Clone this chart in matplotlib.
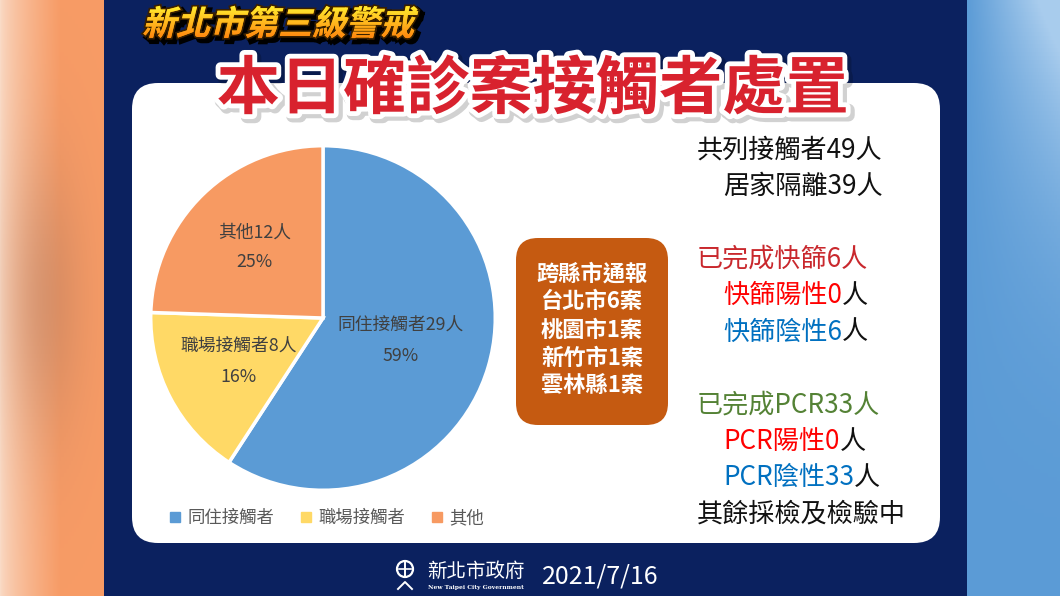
import numpy as np
import matplotlib
matplotlib.use('Agg')
import matplotlib.pyplot as plt
from matplotlib.patches import FancyBboxPatch, Rectangle, PathPatch, Circle
from matplotlib.textpath import TextPath
from matplotlib.font_manager import FontProperties
from matplotlib.transforms import Affine2D
from matplotlib.lines import Line2D
import matplotlib.patheffects as pe

plt.rcParams['font.family'] = ['Noto Sans CJK TC', 'DejaVu Sans']

# ---------------- data ----------------
categories = ['同住接觸者', '職場接觸者', '其他']
counts = [29, 8, 12]
pct_labels = ['59%', '16%', '25%']
pie_colors = ['#5B9BD5', '#FFD966', '#F79A62']

title_small = '新北市第三級警戒'
title_big = '本日確診案接觸者處置'
box_lines = ['跨縣市通報', '台北市6案', '桃園市1案', '新竹市1案', '雲林縣1案']

total_contacts = 49
home_quarantine = 39
rapid_done, rapid_pos, rapid_neg = 6, 0, 6
pcr_done, pcr_pos, pcr_neg = 33, 0, 33
footer_org = '新北市政府'
footer_org_en = 'New Taipei City Government'
date_text = '2021/7/16'

BLACK = '#111111'
DARKRED = '#C9282D'
RED = '#FF0000'
BLUE = '#0070C0'
GREEN = '#548235'

right_lines = [
    (False, [(f'共列接觸者{total_contacts}人', BLACK)]),
    (True, [(f'居家隔離{home_quarantine}人', BLACK)]),
    (False, [(f'已完成快篩{rapid_done}人', DARKRED)]),
    (True, [(f'快篩陽性{rapid_pos}', RED), ('人', BLACK)]),
    (True, [(f'快篩陰性{rapid_neg}', BLUE), ('人', BLACK)]),
    (False, [(f'已完成PCR{pcr_done}人', GREEN)]),
    (True, [(f'PCR陽性{pcr_pos}', RED), ('人', BLACK)]),
    (True, [(f'PCR陰性{pcr_neg}', BLUE), ('人', BLACK)]),
    (False, [('其餘採檢及檢驗中', BLACK)]),
]
right_rows = [0, 1, 3, 4, 5, 7, 8, 9, 10]

# ---------------- figure ----------------
W, H = 1060, 596
fig = plt.figure(figsize=(W / 100, H / 100), dpi=100)
bg = fig.add_axes([0, 0, 1, 1])
bg.set_xlim(0, W)
bg.set_ylim(H, 0)
bg.axis('off')

# left blurred orange strip
ny, nx = 150, 104
gx = np.arange(nx)[None, :].astype(float)
gy = np.linspace(0, H, ny)[:, None]
c0 = np.array([0.98, 0.86, 0.78])
c1 = np.array([0.97, 0.61, 0.40])
t = np.clip(gx / 60.0, 0, 1) ** 0.7
img = c0[None, None, :] + (c1 - c0)[None, None, :] * t[..., None]
img = np.broadcast_to(img, (ny, nx, 3)).copy()
blob = np.exp(-(((gx - 45) / 28.0) ** 2 + ((gy - 300) / 100.0) ** 2) / 2)
brown = np.array([0.70, 0.48, 0.37])
img = img + (brown - img) * (0.45 * blob)[..., None]
bg.imshow(np.clip(img, 0, 1), extent=(0, 104, H, 0), aspect='auto', zorder=0)

# right blue strip
nx2 = 93
gx2 = np.linspace(0, 1, nx2)[None, :]
gy2 = np.linspace(0, 1, ny)[:, None]
b0 = np.array([0.36, 0.61, 0.84])
b1 = np.array([0.66, 0.80, 0.93])
tt = np.clip((1 - gy2) ** 3 * gx2 * 1.3, 0, 1)
img2 = b0 + (b1 - b0) * tt[..., None]
bg.imshow(np.clip(img2, 0, 1), extent=(967, W, H, 0), aspect='auto', zorder=0)

# navy centre
bg.add_patch(Rectangle((104, 0), 863, H, facecolor='#0B215F', edgecolor='none', zorder=1))

# white rounded panel
bg.add_patch(FancyBboxPatch((132, 83), 808, 460,
                            boxstyle='round,pad=0,rounding_size=26',
                            facecolor='white', edgecolor='none', zorder=2))

# small slanted title with gradient fill
fp_small = FontProperties(family='Noto Sans CJK TC', weight='black')
tp = TextPath((0, 0), title_small, size=34, prop=fp_small)
tr = Affine2D().skew_deg(14, 0).scale(1, -1).translate(142, 35) + bg.transData
patch = PathPatch(tp, transform=tr, facecolor='#FFB000', edgecolor='none', zorder=5,
                  path_effects=[pe.Stroke(linewidth=4, foreground='black', offset=(2.5, -2.5)),
                                pe.Stroke(linewidth=2.5, foreground='#3A2000'),
                                pe.Normal()])
bg.add_patch(patch)
grad = np.linspace(0, 1, 64)[:, None]
gc_top = np.array([1.0, 0.97, 0.20])
gc_bot = np.array([1.0, 0.50, 0.05])
gimg = gc_top + (gc_bot - gc_top) * grad[..., None]
gimg = np.broadcast_to(gimg, (64, 2, 3))
im = bg.imshow(gimg, extent=(135, 450, 40, 3), aspect='auto', zorder=6)
im.set_clip_path(patch)

# big red title
bg.text(533, 90, title_big, ha='center', va='center', fontsize=45.5, weight='black',
        color='#D8222E', zorder=7,
        path_effects=[pe.Stroke(linewidth=9, foreground=(0, 0, 0, 0.18), offset=(2, -2)),
                      pe.Stroke(linewidth=7, foreground='white'),
                      pe.Normal()])

# ---------------- pie ----------------
cx, cy, R = 323, 318, 174
pax = fig.add_axes([(cx - R) / W, 1 - (cy + R) / H, 2 * R / W, 2 * R / H])
wedges, _ = pax.pie(counts, colors=pie_colors, startangle=90, counterclock=False,
                    wedgeprops=dict(edgecolor='white', linewidth=2.5))
pax.set_xlim(-1.01, 1.01)
pax.set_ylim(-1.01, 1.01)
pax.axis('off')
label_r = [0.47, 0.55, 0.57]
for w, cat, n, pct, r in zip(wedges, categories, counts, pct_labels, label_r):
    ang = np.deg2rad((w.theta1 + w.theta2) / 2)
    px, py = r * np.cos(ang), r * np.sin(ang)
    pax.annotate(f'{cat}{n}人', xy=(px, py), xytext=(0, 15), textcoords='offset pixels',
                 ha='center', va='center', fontsize=12.8, color='#404040', weight='medium')
    pax.annotate(pct, xy=(px, py), xytext=(0, -15), textcoords='offset pixels',
                 ha='center', va='center', fontsize=12.8, color='#404040', weight='medium')

handles = [Line2D([], [], marker='s', linestyle='none', markersize=7,
                  markerfacecolor=c, markeredgecolor=c) for c in pie_colors]
fig.legend(handles, categories, loc='center', bbox_to_anchor=(326 / W, 1 - 518 / H),
           ncol=3, frameon=False, fontsize=12.5, labelcolor='#595959',
           handlelength=0.85, handletextpad=0.3, columnspacing=1.4)

# ---------------- orange box ----------------
bg.add_patch(FancyBboxPatch((516, 238), 152, 187, boxstyle='round,pad=0,rounding_size=22',
                            facecolor='#C55A11', edgecolor='none', zorder=3))
for i, line in enumerate(box_lines):
    bg.text(592, 274 + 28 * i, line, ha='center', va='center', fontsize=16,
            weight='bold', color='white', zorder=4)

# ---------------- right text ----------------
def draw_segments(x, y, segs, size):
    prev = None
    for txt, col in segs:
        if prev is None:
            prev = bg.text(x, y, txt, ha='left', va='center', fontsize=size, color=col,
                           weight='medium', zorder=4)
        else:
            prev = bg.annotate(txt, xy=(1, 0), xycoords=prev, ha='left', va='bottom',
                               fontsize=size, color=col, weight='medium', zorder=4)

for (indent, segs), row in zip(right_lines, right_rows):
    x = 723 if indent else 697
    y = 150 + 36.4 * row
    draw_segments(x, y, segs, 18.8)

# ---------------- footer ----------------
bg.add_patch(Circle((405, 569), 8, facecolor='none', edgecolor='white', linewidth=1.6, zorder=4))
bg.plot([405, 405], [561, 577], color='white', linewidth=1.4, zorder=4)
bg.plot([399, 411], [569, 569], color='white', linewidth=1.2, zorder=4)
bg.plot([398, 405, 412], [589, 582, 589], color='white', linewidth=1.4, zorder=4)
bg.text(476, 571, footer_org, ha='center', va='center', fontsize=14, color='white', zorder=4)
bg.text(476, 587, footer_org_en, ha='center', va='center', fontsize=4.3, color='white',
        weight='bold', family='DejaVu Serif', zorder=4)
bg.text(600, 576, date_text, ha='center', va='center', fontsize=18, color='white', zorder=4)

fig.savefig('out.png', dpi=100)
